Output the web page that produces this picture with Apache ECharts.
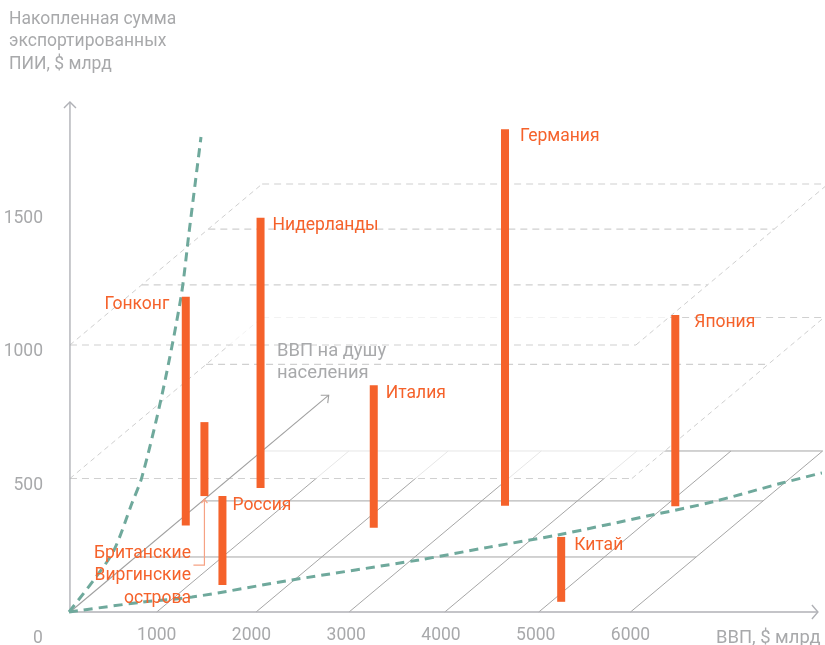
<!DOCTYPE html>
<html><head><meta charset="utf-8">
<style>html,body{margin:0;padding:0;background:#fff}#c{width:825px;height:645px}</style>
<script src="https://cdn.jsdelivr.net/npm/echarts@6/dist/echarts.min.js"></script>
</head><body><div id="c"></div>
<script>
// --- data (GDP $bn, outward FDI stock $bn, GDP per capita $k as depth) ---
const countries = ['Гонконг','Британские\nВиргинские\nострова','Россия','Нидерланды','Италия','Германия','Китай','Япония'];
const gdpValues = [218,43,1352,534,2229,3337,5140,5141];
const fdiValues = [857,277,333,1012,534,1410,243,716];
const perCapitaValues = [32.2,43.2,10.1,46.2,31.4,39.6,3.8,39.4];
const gdpTicks = [1000,2000,3000,4000,5000,6000];
const fdiTicks = [500,1000,1500];
const floorGridGdp = [1000,2048,3030,4040,5032,6000];
const floorDepths = [20.5,41.4,60];
const plane500Depths = [42.5,60];
const plane1000Depths = [22.4,43.2,60];
const curveSteepGdp = [74,359,549,739,844,1055,1256,1340,1414,1467];
const curveSteepFdi = [0,131,232,408,506,813,1180,1419,1629,1779];
const curveFlatGdp = [74,844,1372,2427,3768,4507,5224,6227,6860,7599,8021];
const curveFlatFdi = [0,37,56,120,195,243,288,363,412,483,521];

// --- oblique projection of the depth axis onto the plane ---
const depthToGdp = 33.8, depthToFdi = 10.05;
const axisOriginGdp = 84, axisEndGdp = 7978, axisEndFdi = 1910, depthAxisEnd = 80.8;
const plane500EndGdp = 6015, plane1000EndGdp = 6057;

const GRAY='#a8a9ab', LINE='#a6a6a6', AXIS='#b0b1b6', DASH='#d0d0d0', ORANGE='#f5622b', GREEN='#6fa99c';
const FONT='Roboto, sans-serif';
const LABEL_SIZE=17.5;

// label placement relative to bar top, in screen pixels
const labelPlacement = [
  {side:'left', dx:-12.5, dy:8},
  {side:'left', dx:-9.5, dy:154, lh:22.5},
  {side:'right',dx:6, dy:10},
  {side:'right',dx:8, dy:8},
  {side:'right',dx:8, dy:8},
  {side:'right',dx:11, dy:7},
  {side:'right',dx:9, dy:9},
  {side:'right',dx:15, dy:8}
];

const P = (api,g,f,d) => api.coord([g+(d||0)*depthToGdp, f+(d||0)*depthToFdi]);
const seg = (a,b,style) => ({type:'line',shape:{x1:a[0],y1:a[1],x2:b[0],y2:b[1]},style:Object.assign({fill:null},style)});
const solid = {stroke:LINE,lineWidth:1};
const hDash = {stroke:DASH,lineWidth:1.2,lineDash:[7,5]};
const dDash = {stroke:'#cfcfcf',lineWidth:1,lineDash:[5,4]};

function layer(z,render){
  return {type:'custom',coordinateSystem:'cartesian2d',z,silent:true,data:[[axisOriginGdp,0]],encode:{x:0,y:1},
    renderItem:(p,api)=>({type:'group',children:render(api)})};
}
function plane(api,fdi,endGdp,depths){
  const maxD=depths[depths.length-1];
  const kids=[{type:'polygon',shape:{points:[P(api,axisOriginGdp,fdi),P(api,endGdp,fdi),P(api,endGdp,fdi,maxD),P(api,axisOriginGdp,fdi,maxD)]},
    style:{fill:'rgba(255,255,255,0.72)'}}];
  kids.push(seg(P(api,axisOriginGdp,fdi),P(api,endGdp,fdi),hDash));
  depths.forEach(d=>kids.push(seg(P(api,axisOriginGdp,fdi,d),P(api,endGdp,fdi,d),hDash)));
  kids.push(seg(P(api,axisOriginGdp,fdi),P(api,axisOriginGdp,fdi,maxD),dDash));
  kids.push(seg(P(api,endGdp,fdi),P(api,endGdp,fdi,maxD),dDash));
  return kids;
}
const zipPts=(a,b)=>a.map((v,i)=>[v,b[i]]);
function curve(gs,fs){
  return {type:'line',data:zipPts(gs,fs),smooth:0.3,showSymbol:false,symbol:'none',clip:false,z:6,silent:true,
    lineStyle:{color:GREEN,width:3,type:[9,6]}};
}

const floorLayer = layer(1,api=>{
  const kids=[];
  floorDepths.forEach(d=>kids.push(seg(P(api,axisOriginGdp,0,d),P(api,floorGridGdp[5],0,d),solid)));
  floorGridGdp.forEach(g=>kids.push(seg(P(api,g,0),P(api,g,0,60),solid)));
  return kids;
});
const plane500Layer = layer(2,api=>plane(api,500,plane500EndGdp,plane500Depths));
const plane1000Layer = layer(3,api=>plane(api,1000,plane1000EndGdp,plane1000Depths));
const axesLayer = layer(5,api=>{
  const o=P(api,axisOriginGdp,0), xe=P(api,axisEndGdp,0), ye=P(api,axisOriginGdp,axisEndFdi), de=P(api,axisOriginGdp,0,depthAxisEnd);
  const ax={stroke:AXIS,lineWidth:1.4,fill:null}, ar={stroke:'#a0a0a0',lineWidth:1.1,fill:null};
  return [
    seg(o,xe,ax),{type:'polyline',shape:{points:[[xe[0]-6,xe[1]-7],xe,[xe[0]-6,xe[1]+7]]},style:ax},
    seg(o,ye,ax),{type:'polyline',shape:{points:[[ye[0]-6,ye[1]+6],ye,[ye[0]+6,ye[1]+6]]},style:ax},
    seg(o,de,ar),{type:'polyline',shape:{points:[[de[0]-8,de[1]],de,[de[0]-1,de[1]+8]]},style:ar}
  ];
});
const barsLayer = {type:'custom',coordinateSystem:'cartesian2d',z:8,silent:true,clip:false,
  data:countries.map((c,i)=>[gdpValues[i],fdiValues[i],perCapitaValues[i],i]),
  encode:{x:0,y:1},
  renderItem:(p,api)=>{
    const g=api.value(0),f=api.value(1),d=api.value(2),i=api.value(3);
    const base=P(api,g,0,d), top=P(api,g,f,d), w=8;
    const pl=labelPlacement[i];
    const kids=[{type:'rect',shape:{x:base[0]-w/2,y:top[1],width:w,height:base[1]-top[1]},style:{fill:ORANGE}}];
    const tx=pl.side==='left'?top[0]-w/2+pl.dx:top[0]+w/2+pl.dx;
    kids.push({type:'text',z2:5,style:{text:countries[i],x:tx,y:top[1]+pl.dy,fill:ORANGE,
      font:LABEL_SIZE+'px '+FONT,lineHeight:pl.lh||22,align:pl.side==='left'?'right':'left',verticalAlign:'middle'}});
    if(i===1){ // connector from the label up to the bar's foot
      const s={stroke:'#f6a284',lineWidth:1.2,fill:null};
      kids.push({type:'polyline',shape:{points:[[top[0]-11,base[1]+69],[top[0],base[1]+69],[top[0],base[1]+3]]},style:s});
      kids.push({type:'polyline',shape:{points:[[top[0]-3,base[1]+7],[top[0],base[1]+3],[top[0]+3,base[1]+7]]},style:s});
    }
    return {type:'group',children:kids};
  }};

const chart=echarts.init(document.getElementById('c'),null,{renderer:'canvas'});
const txt=(x,y,t,extra)=>({type:'text',x,y,z:20,silent:true,style:Object.assign({text:t,fill:GRAY,font:LABEL_SIZE+'px '+FONT,lineHeight:22.5},extra||{})});
const plain=v=>String(v);
const wideFont='18.4px '+FONT;
chart.setOption({
  animation:false,backgroundColor:'#fff',
  grid:{left:62,width:758,bottom:33,height:534,containLabel:false},
  xAxis:{type:'value',min:0,max:8000,interval:1000,splitLine:{show:false},axisLine:{show:false},axisTick:{show:false},
    axisLabel:{customValues:gdpTicks,formatter:plain,color:GRAY,fontFamily:FONT,fontSize:LABEL_SIZE,margin:15}},
  yAxis:{type:'value',min:0,max:2000,interval:500,splitLine:{show:false},axisLine:{show:false},axisTick:{show:false},
    axisLabel:{customValues:fdiTicks,formatter:plain,color:GRAY,fontFamily:FONT,fontSize:LABEL_SIZE,margin:19,verticalAlign:'top',lineHeight:14}},
  series:[floorLayer,plane500Layer,plane1000Layer,axesLayer,curve(curveSteepGdp,curveSteepFdi),curve(curveFlatGdp,curveFlatFdi),barsLayer],
  graphic:[
    txt(9,8,'Накопленная сумма\nэкспортированных\nПИИ, $ млрд'),
    txt(33,627,'0'),
    txt(716,627,'ВВП, $ млрд',{font:wideFont}),
    txt(277,340,'ВВП на душу\nнаселения',{font:wideFont})
  ]
});
</script></body></html>
